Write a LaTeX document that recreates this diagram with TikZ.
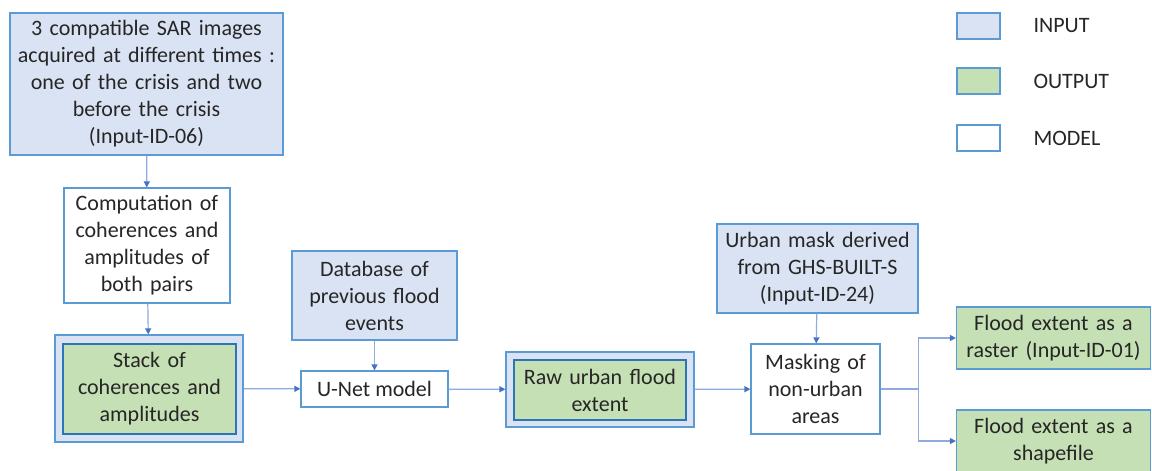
\documentclass[tikz,border=0pt]{standalone}
\usepackage{fontspec}
\setmainfont{Carlito}
\usetikzlibrary{arrows.meta,positioning}

\definecolor{inblue}{HTML}{DAE3F3}
\definecolor{outgreen}{HTML}{C5E0B4}
\definecolor{edgeblue}{HTML}{5B9BD5}
\definecolor{darkedge}{HTML}{2E75B6}
\definecolor{linkblue}{HTML}{8FAADC}
\definecolor{tipblue}{HTML}{4472C4}

\tikzset{
  box/.style={draw=edgeblue, line width=1.2pt, align=center, inner sep=2pt,
    font=\fontsize{22}{27}\selectfont, text=black!85},
  inbox/.style={box, fill=inblue},
  outbox/.style={box, fill=outgreen},
  modelbox/.style={box, fill=white},
  wrapbox/.style={draw=edgeblue, line width=1.2pt, fill=inblue},
  innerbox/.style={outbox, draw=darkedge},
  legbox/.style={draw=edgeblue, line width=1.2pt, minimum width=43, minimum height=26},
  legtext/.style={anchor=west, font=\fontsize{22}{27}\selectfont, text=black!85},
  flow/.style={draw=linkblue, line width=1.2pt, -{Triangle[length=6pt,width=6pt,color=tipblue]}}
}

\begin{document}
\begin{tikzpicture}[x=1pt,y=-1pt]
\useasboundingbox (0,0) rectangle (1152,471);

% === Left column: SAR input and preprocessing ===
\node[inbox, minimum width=273, minimum height=142, text width=265] (sar) at (146.5,84)
  {3 compatible SAR images\\acquired at different times :\\one of the crisis and two\\before the crisis\\(Input-ID-06)};
\node[modelbox, minimum width=166, minimum height=115, text width=160] (comp) at (147,245.5)
  {Computation of\\coherences and\\amplitudes of\\both pairs};

% stack of coherences (output inside an input frame)
\node[wrapbox, minimum width=188, minimum height=107] (stack) at (149,388.5) {};
\node[innerbox, minimum width=173, minimum height=90, text width=165] (stackin) at (149.5,389)
  {Stack of\\coherences and\\amplitudes};

% === Middle: U-Net ===
\node[inbox, minimum width=165, minimum height=89, text width=160] (floods) at (374.5,295.5)
  {Database of\\previous flood\\events};
\node[modelbox, minimum width=147, minimum height=36] (unet) at (374.5,389) {U-Net model};

\node[wrapbox, minimum width=188, minimum height=75] (raw) at (600,389.5) {};
\node[innerbox, minimum width=172, minimum height=60, text width=165] (rawin) at (600,390)
  {Raw urban flood\\extent};

% === Right: masking and outputs ===
\node[inbox, minimum width=201, minimum height=89, text width=195] (umask) at (817.5,268.5)
  {Urban mask derived\\from GHS-BUILT-S\\(Input-ID-24)};
\node[modelbox, minimum width=129, minimum height=90, text width=125] (masking) at (815.5,389)
  {Masking of\\non-urban\\areas};

\node[outbox, minimum width=193, minimum height=62, text width=190] (raster) at (1053.5,338)
  {Flood extent as a\\raster (Input-ID-01)};
\node[outbox, minimum width=193, minimum height=62, text width=190] (shape) at (1053.5,441)
  {Flood extent as a\\shapefile};

% Connectors
\draw[flow] (sar) -- (comp);
\draw[flow] (comp) -- (stack);
\draw[flow] (stack) -- (unet);
\draw[flow] (floods) -- (unet);
\draw[flow] (unet) -- (raw);
\draw[flow] (raw) -- (masking);
\draw[flow] (umask) -- (masking);
\draw[draw=linkblue, line width=1.2pt] (masking.east) -- ++(38,0) coordinate (split);
\draw[flow] (split) |- (raster.west);
\draw[flow] (split) |- (shape.west);

% === Legend ===
\node[legbox, fill=inblue] (leg1) at (978.5,26) {};
\node[legbox, fill=outgreen] (leg2) at (978.5,81) {};
\node[legbox, fill=white] (leg3) at (978.5,138) {};
\node[legtext] at (1030,26) {INPUT};
\node[legtext] at (1030,81) {OUTPUT};
\node[legtext] at (1030,138) {MODEL};

\end{tikzpicture}
\end{document}
